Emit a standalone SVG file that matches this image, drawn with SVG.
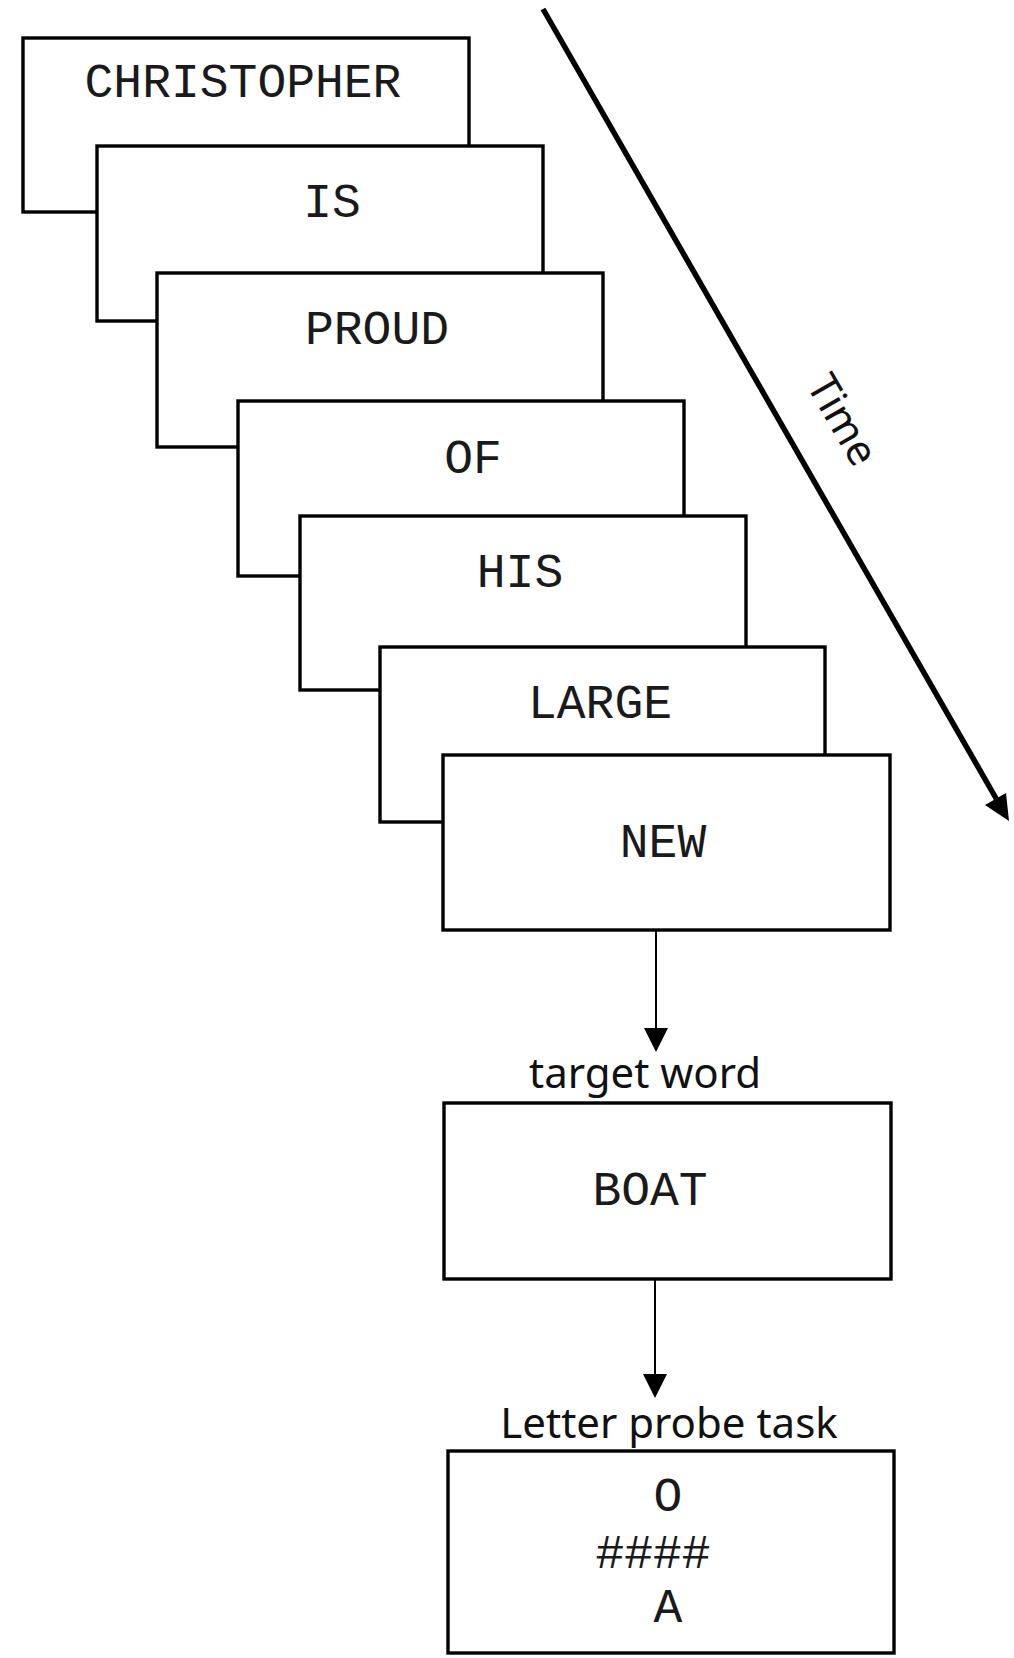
<svg xmlns="http://www.w3.org/2000/svg" width="1014" height="1658" viewBox="0 0 1014 1658">
  <style>
    .box { fill: #ffffff; stroke: #000000; stroke-width: 3.4; }
    .word { font-family: "Liberation Mono", "Courier New", monospace; font-size: 48px; fill: #1a1a1a; text-anchor: middle; }
    .label { font-family: "Noto Sans", "Open Sans", sans-serif; font-size: 42px; fill: #111111; text-anchor: middle; }
    .conn { stroke: #000000; stroke-width: 2; fill: none; }
    .timeline { stroke: #000000; fill: none; }
  </style>
  <defs>
    <marker id="arrowSmall" markerUnits="userSpaceOnUse" markerWidth="24" markerHeight="24" refX="0" refY="12" orient="auto">
      <path d="M0,0 L24,12 L0,24 Z" fill="#000000"/>
    </marker>
  </defs>
  <rect width="1014" height="1658" fill="#ffffff"/>

  <g id="node-christopher">
    <rect class="box" x="23" y="38" width="446" height="174"/>
    <text class="word" x="243" y="97">CHRISTOPHER</text>
  </g>
  <g id="node-is">
    <rect class="box" x="97" y="146" width="446" height="175"/>
    <text class="word" x="332" y="217">IS</text>
  </g>
  <g id="node-proud">
    <rect class="box" x="157" y="273" width="446" height="174"/>
    <text class="word" x="377" y="344">PROUD</text>
  </g>
  <g id="node-of">
    <rect class="box" x="238" y="401" width="446" height="175"/>
    <text class="word" x="473" y="473">OF</text>
  </g>
  <g id="node-his">
    <rect class="box" x="300" y="516" width="446" height="174"/>
    <text class="word" x="520" y="587">HIS</text>
  </g>
  <g id="node-large">
    <rect class="box" x="380" y="647" width="445" height="175"/>
    <text class="word" x="600" y="718">LARGE</text>
  </g>
  <g id="node-new">
    <rect class="box" x="443" y="755" width="447" height="175"/>
    <text class="word" x="663" y="857">NEW</text>
  </g>

  <g id="label-target">
    <text class="label" x="645" y="1088">target word</text>
  </g>
  <g id="node-boat">
    <rect class="box" x="444" y="1103" width="447" height="176"/>
    <text class="word" x="650" y="1205">BOAT</text>
  </g>

  <g id="label-probe">
    <text class="label" x="669" y="1438">Letter probe task</text>
  </g>
  <g id="node-probe">
    <rect class="box" x="448" y="1451" width="446" height="202"/>
    <text class="word" x="668" y="1511">O</text>
    <text class="word" x="653" y="1568">####</text>
    <text class="word" x="668" y="1622">A</text>
  </g>

  <g id="connectors">
    <line class="conn" x1="656" y1="931" x2="656" y2="1028" marker-end="url(#arrowSmall)"/>
    <line class="conn" x1="655" y1="1280" x2="655" y2="1374" marker-end="url(#arrowSmall)"/>
    <line class="timeline" stroke-width="5.5" x1="543" y1="9" x2="997" y2="800"/>
    <polygon points="1009,821 1006,793 985,805" fill="#000000"/>
  </g>

  <g id="label-time">
    <text class="label" x="830" y="427" transform="rotate(60 830 427)">Time</text>
  </g>
</svg>
